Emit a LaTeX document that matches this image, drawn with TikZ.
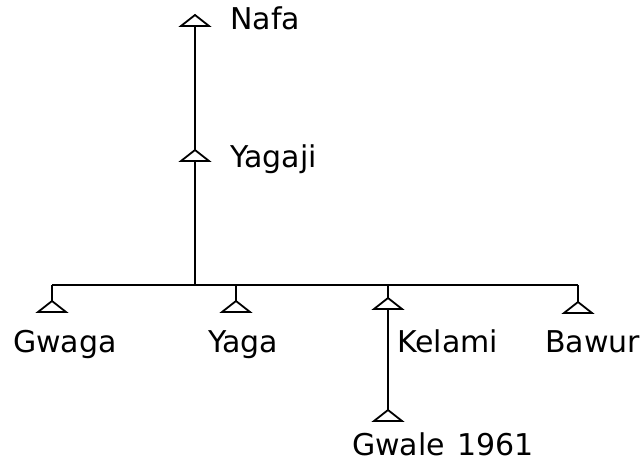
\documentclass[tikz,border=0pt]{standalone}
\usepackage{fontspec}
\setmainfont{DejaVu Sans}
\begin{document}
\begin{tikzpicture}[x=1pt,y=-1pt,
  link/.style={line width=1.5pt,black},
  tri/.style={line width=1.8pt,black,line join=miter},
  lbl/.style={inner sep=0pt,anchor=base west,font=\fontsize{30}{35}\selectfont}]
\useasboundingbox (0,0) rectangle (643,463);
% person apex coordinates
\coordinate (nafa) at (195,15);
\coordinate (yagaji) at (195,150);
\coordinate (gwaga) at (52,301);
\coordinate (yaga) at (236,301);
\coordinate (kelami) at (388,298);
\coordinate (bawur) at (578,302);
\coordinate (gwale) at (388,410);
\coordinate (barL) at (52,285);
\coordinate (barR) at (578,285);
\coordinate (barM) at (195,285);
% triangles
\foreach \p in {nafa,yagaji,gwaga,yaga,kelami,bawur,gwale}{
  \draw[tri] (\p) -- ++(-14,11) -- ++(28,0) -- cycle;
}
% links
\draw[link] ([yshift=-11pt]nafa) -- (yagaji);
\draw[link] ([yshift=-11pt]yagaji) -- (barM);
\draw[link] (barL) -- (barR);
\draw[link] (barL) -- (gwaga);
\draw[link] (yaga |- barL) -- (yaga);
\draw[link] (kelami |- barL) -- (kelami);
\draw[link] (barR) -- (bawur);
\draw[link] ([yshift=-11pt]kelami) -- (gwale);
% labels
\node[lbl] (lnafa) at (230,29) {Nafa};
\node[lbl] (lyagaji) at (230,167) {Yagaji};
\node[lbl] (lgwaga) at (13,352) {Gwaga};
\node[lbl] (lyaga) at (208,352) {Yaga};
\node[lbl] (lkelami) at (397,352) {Kelami};
\node[lbl] (lbawur) at (545,352) {Bawur};
\node[lbl] (lgwale) at (352,455) {Gwale\hspace{0.4em}1961};
\end{tikzpicture}
\end{document}
